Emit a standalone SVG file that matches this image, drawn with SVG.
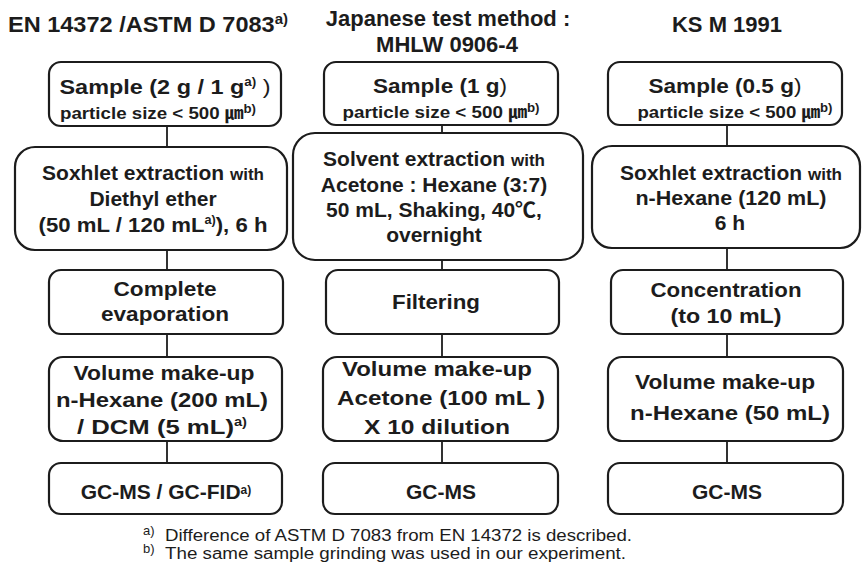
<svg xmlns="http://www.w3.org/2000/svg" width="862" height="571" viewBox="0 0 862 571">
<style>
.box{fill:#fff;stroke:#1c1c1c;stroke-width:2.2}
.t{font-family:"Liberation Sans",Arial,"Noto Sans CJK KR",sans-serif;font-weight:bold;fill:#1c1c1c;text-anchor:middle}
.h{font-size:22px}
.m{font-size:21px}
.s{font-size:17px}
.w{font-size:17px}
.sup{font-size:12px}
.hs{font-size:14px}
.n{font-weight:normal}
.fn{font-family:"Liberation Sans",Arial,sans-serif;font-size:16px;fill:#1c1c1c}
.fs{font-family:"Liberation Sans",Arial,sans-serif;font-size:13px;fill:#1c1c1c}
#connectors line{stroke:#1c1c1c;stroke-width:1.8}
</style>
<rect width="862" height="571" fill="#fff"/>

<g id="headers">
<text class="t h" x="8" y="32" style="text-anchor:start" textLength="280" lengthAdjust="spacingAndGlyphs">EN 14372 /ASTM D 7083<tspan class="hs" dy="-8">a)</tspan></text>
<text class="t h" x="448" y="26">Japanese test method :</text>
<text class="t h" x="447" y="52">MHLW 0906-4</text>
<text class="t h" x="727" y="32">KS M 1991</text>
</g>

<g id="connectors">
<line x1="167" y1="126" x2="167" y2="147"/>
<line x1="167" y1="250" x2="167" y2="270"/>
<line x1="167" y1="334" x2="167" y2="357"/>
<line x1="167" y1="441" x2="167" y2="463"/>
<line x1="442" y1="125" x2="442" y2="133"/>
<line x1="442" y1="260" x2="442" y2="270"/>
<line x1="442" y1="334" x2="442" y2="357"/>
<line x1="442" y1="441" x2="442" y2="463"/>
<line x1="727" y1="125" x2="727" y2="146"/>
<line x1="727" y1="248" x2="727" y2="270"/>
<line x1="727" y1="334" x2="727" y2="357"/>
<line x1="727" y1="441" x2="727" y2="463"/>
</g>

<g id="en-sample">
<rect class="box" x="49" y="62" width="232" height="64" rx="12"/>
<text class="t m" x="165" y="94" textLength="211" lengthAdjust="spacingAndGlyphs">Sample (2 g / 1 g<tspan class="sup" dy="-8">a)</tspan><tspan class="n" dy="8"> )</tspan></text>
<text class="t s" x="158" y="119" textLength="196" lengthAdjust="spacingAndGlyphs">particle size &lt; 500 ㎛<tspan class="sup" dy="-6">b)</tspan></text>
</g>
<g id="en-soxhlet">
<rect class="box" x="15" y="147" width="272" height="103" rx="20"/>
<text class="t m" x="153" y="180">Soxhlet extraction <tspan class="w">with</tspan></text>
<text class="t m" x="153" y="206">Diethyl ether</text>
<text class="t m" x="153" y="232" textLength="229" lengthAdjust="spacingAndGlyphs">(50 mL / 120 mL<tspan class="sup" dy="-8">a)</tspan><tspan dy="8">), 6 h</tspan></text>
</g>
<g id="en-evaporation">
<rect class="box" x="49" y="270" width="234" height="64" rx="12"/>
<text class="t m" x="165" y="296" textLength="103" lengthAdjust="spacingAndGlyphs">Complete</text>
<text class="t m" x="165" y="321" textLength="128" lengthAdjust="spacingAndGlyphs">evaporation</text>
</g>
<g id="en-volume">
<rect class="box" x="49" y="357" width="233" height="84" rx="14"/>
<text class="t m" x="164" y="380" textLength="181" lengthAdjust="spacingAndGlyphs">Volume make-up</text>
<text class="t m" x="162" y="407" textLength="212" lengthAdjust="spacingAndGlyphs">n-Hexane (200 mL)</text>
<text class="t m" x="162" y="434" textLength="170" lengthAdjust="spacingAndGlyphs">/ DCM (5 mL)<tspan class="sup" dy="-8">a)</tspan></text>
</g>
<g id="en-gc">
<rect class="box" x="49" y="463" width="233" height="51" rx="12"/>
<text class="t m" x="166" y="499">GC-MS / GC-FID<tspan class="sup" dy="-5">a)</tspan></text>
</g>

<g id="jp-sample">
<rect class="box" x="324" y="62" width="234" height="63" rx="12"/>
<text class="t m" x="440" y="93" textLength="134" lengthAdjust="spacingAndGlyphs">Sample (1 g<tspan class="n">)</tspan></text>
<text class="t s" x="441" y="118" textLength="197" lengthAdjust="spacingAndGlyphs">particle size &lt; 500 ㎛<tspan class="sup" dy="-6">b)</tspan></text>
</g>
<g id="jp-solvent">
<rect class="box" x="293" y="133" width="290" height="127" rx="22"/>
<text class="t m" x="434" y="166">Solvent extraction <tspan class="w">with</tspan></text>
<text class="t m" x="434" y="192">Acetone : Hexane (3:7)</text>
<text class="t m" x="434" y="217">50 mL, Shaking, 40℃,</text>
<text class="t m" x="434" y="242">overnight</text>
</g>
<g id="jp-filtering">
<rect class="box" x="326" y="270" width="233" height="64" rx="12"/>
<text class="t m" x="436" y="309" textLength="88" lengthAdjust="spacingAndGlyphs">Filtering</text>
</g>
<g id="jp-volume">
<rect class="box" x="323" y="357" width="235" height="84" rx="14"/>
<text class="t m" x="437" y="376" textLength="190" lengthAdjust="spacingAndGlyphs">Volume make-up</text>
<text class="t m" x="441" y="405" textLength="208" lengthAdjust="spacingAndGlyphs">Acetone (100 mL )</text>
<text class="t m" x="437" y="434" textLength="146" lengthAdjust="spacingAndGlyphs">X 10 dilution</text>
</g>
<g id="jp-gc">
<rect class="box" x="323" y="463" width="235" height="51" rx="12"/>
<text class="t m" x="441" y="499">GC-MS</text>
</g>

<g id="ks-sample">
<rect class="box" x="608" y="62" width="234" height="63" rx="12"/>
<text class="t m" x="725" y="93" textLength="153" lengthAdjust="spacingAndGlyphs">Sample (0.5 g<tspan class="n">)</tspan></text>
<text class="t s" x="735" y="118" textLength="195" lengthAdjust="spacingAndGlyphs">particle size &lt; 500 ㎛<tspan class="sup" dy="-6">b)</tspan></text>
</g>
<g id="ks-soxhlet">
<rect class="box" x="592" y="146" width="268" height="102" rx="20"/>
<text class="t m" x="731" y="180">Soxhlet extraction <tspan class="w">with</tspan></text>
<text class="t m" x="731" y="205" textLength="191" lengthAdjust="spacingAndGlyphs">n-Hexane (120 mL)</text>
<text class="t m" x="730" y="230">6 h</text>
</g>
<g id="ks-concentration">
<rect class="box" x="611" y="270" width="232" height="64" rx="12"/>
<text class="t m" x="726" y="297" textLength="151" lengthAdjust="spacingAndGlyphs">Concentration</text>
<text class="t m" x="726" y="323" textLength="111" lengthAdjust="spacingAndGlyphs">(to 10 mL)</text>
</g>
<g id="ks-volume">
<rect class="box" x="608" y="357" width="235" height="84" rx="14"/>
<text class="t m" x="725" y="389" textLength="180" lengthAdjust="spacingAndGlyphs">Volume make-up</text>
<text class="t m" x="730" y="420" textLength="200" lengthAdjust="spacingAndGlyphs">n-Hexane (50 mL)</text>
</g>
<g id="ks-gc">
<rect class="box" x="608" y="463" width="235" height="51" rx="12"/>
<text class="t m" x="727" y="499">GC-MS</text>
</g>

<g id="footnotes">
<text class="fs" x="143" y="535">a)</text>
<text class="fn" x="165" y="541" textLength="467" lengthAdjust="spacingAndGlyphs">Difference of ASTM D 7083 from EN 14372 is described.</text>
<text class="fs" x="143" y="553">b)</text>
<text class="fn" x="165" y="559" textLength="461" lengthAdjust="spacingAndGlyphs">The same sample grinding was used in our experiment.</text>
</g>
</svg>
